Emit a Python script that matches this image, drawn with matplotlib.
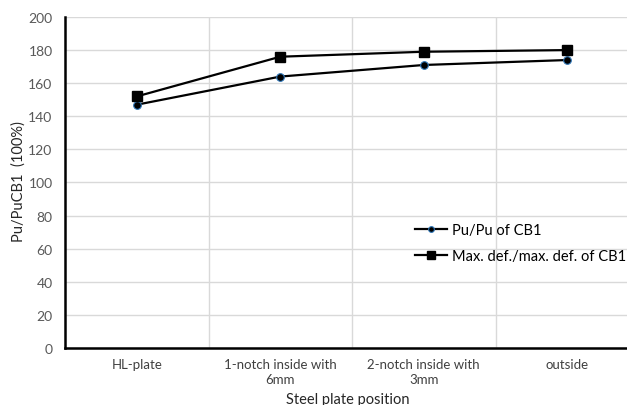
import matplotlib.pyplot as plt
import numpy as np

plt.rcParams['font.family'] = ['Lato', 'DejaVu Sans']

# Steel plate positions and normalised results (%)
positions = ['HL-plate', '1-notch inside with\n6mm', '2-notch inside with\n3mm', 'outside']
pu_ratio = [147, 164, 171, 174]
def_ratio = [152, 176, 179, 180]

fig = plt.figure(figsize=(6.27, 4.06), dpi=100)
ax = fig.add_axes([0.1037, 0.1404, 0.8963, 0.8153])

x = np.arange(len(positions))
ax.plot(x, pu_ratio, color='black', lw=1.6, marker='o', ms=5.5,
        mfc='black', mec='#2e75b6', mew=0.8, label='Pu/Pu of CB1', zorder=3)
ax.plot(x, def_ratio, color='black', lw=1.6, marker='s', ms=7,
        mfc='black', mec='black', label='Max. def./max. def. of CB1', zorder=3)

ax.set_xlim(-0.5, 3.416)
ax.set_ylim(0, 200)
ax.set_yticks(range(0, 201, 20))
ax.set_xticks(x)
ax.set_xticklabels(positions, fontsize=9.5, color='#404040', linespacing=1.3)
ax.tick_params(axis='y', labelsize=10, labelcolor='#595959', length=0, pad=9)
ax.tick_params(axis='x', length=0, pad=7)

# category boundaries as vertical grid
ax.set_xticks(x[:-1] + 0.5, minor=True)
ax.tick_params(axis='x', which='minor', length=0)
ax.grid(axis='y', color='#d9d9d9', lw=1)
ax.grid(axis='x', which='minor', color='#d9d9d9', lw=1)
ax.set_axisbelow(True)

for side in ['top', 'right']:
    ax.spines[side].set_visible(False)
for side in ['left', 'bottom']:
    ax.spines[side].set_linewidth(1.8)
    ax.spines[side].set_color('black')

fig.text(0.029, 0.552, 'Pu/PuCB1  (100%)', fontsize=10.5, color='#262626',
         rotation=90, ha='center', va='center')
fig.text(0.555, 0.0148, 'Steel plate position', fontsize=10.5, color='#262626',
         ha='center', va='center')

ax.legend(loc='center left', bbox_to_anchor=(0.600, 0.317), frameon=False,
          fontsize=10.5, handlelength=2.2, labelspacing=0.85, handletextpad=0.3,
          markerscale=0.75)

fig.savefig('out.png', dpi=100)
